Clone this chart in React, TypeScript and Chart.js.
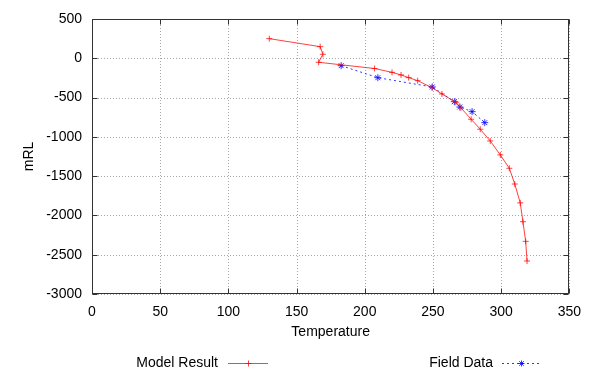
import React, { useEffect, useRef } from "react";
import { Chart, registerables } from "chart.js";

Chart.register(...registerables);

const modelTemp = [130, 167.3, 169.3, 166.2, 207.2, 220, 226.6, 232.2, 238.8, 249.3, 256.6, 266.8, 270.5, 278, 284.7, 292, 299.4, 306, 310, 314, 316, 318, 319];
const modelMRL = [250, 148, 51, -51, -130, -179, -212, -246, -285, -374, -454, -560, -630, -776, -903, -1052, -1230, -1400, -1600, -1840, -2080, -2330, -2580];

const fieldTemp = [182.7, 209.6, 249.5, 265.7, 269.7, 278.7, 288];
const fieldMRL = [-94, -247, -365, -552, -620, -679, -819];

const xTicks = [0, 50, 100, 150, 200, 250, 300, 350];
const yTicks = [500, 0, -500, -1000, -1500, -2000, -2500, -3000];

const seriesNames = ["Model Result", "Field Data"];
const axisTitles = { x: "Temperature", y: "mRL" };

const FONT = '"Liberation Sans", Arial, sans-serif';
const RED = "rgba(255,0,0,0.75)";
const BLUE = "rgba(0,0,255,0.8)";

function drawPlus(ctx: CanvasRenderingContext2D, x: number, y: number, r: number) {
  ctx.beginPath();
  ctx.moveTo(x - r, y);
  ctx.lineTo(x + r, y);
  ctx.moveTo(x, y - r);
  ctx.lineTo(x, y + r);
  ctx.stroke();
}

function drawStar(ctx: CanvasRenderingContext2D, x: number, y: number, r: number) {
  drawPlus(ctx, x, y, r);
  const d = r * 0.75;
  ctx.beginPath();
  ctx.moveTo(x - d, y - d);
  ctx.lineTo(x + d, y + d);
  ctx.moveTo(x - d, y + d);
  ctx.lineTo(x + d, y - d);
  ctx.stroke();
}

const framePlugin = {
  id: "gnuFrame",
  beforeDatasetsDraw(chart: any) {
    const { ctx, chartArea } = chart;
    const { left, right, top, bottom } = chartArea;
    const xs = chart.scales.x;
    const ys = chart.scales.y;
    ctx.save();
    ctx.strokeStyle = "#a8a8a8";
    ctx.lineWidth = 1;
    ctx.setLineDash([1, 2]);
    ctx.beginPath();
    xTicks.forEach((v) => {
      const px = Math.round(xs.getPixelForValue(v)) + 0.5;
      ctx.moveTo(px, top);
      ctx.lineTo(px, bottom);
    });
    yTicks.forEach((v) => {
      const py = Math.round(ys.getPixelForValue(v)) + 0.5;
      ctx.moveTo(left, py);
      ctx.lineTo(right, py);
    });
    ctx.stroke();
    ctx.restore();
  },
  afterDraw(chart: any) {
    const { ctx, chartArea } = chart;
    const { left, right, top, bottom } = chartArea;
    const xs = chart.scales.x;
    const ys = chart.scales.y;
    ctx.save();
    ctx.strokeStyle = "#333";
    ctx.lineWidth = 1;
    const L = Math.round(left) + 0.5;
    const R = Math.round(right) - 0.5;
    const T = Math.round(top) + 0.5;
    const B = Math.round(bottom) - 0.5;
    ctx.strokeRect(L, T, R - L, B - T);
    const tl = 5;
    ctx.beginPath();
    xTicks.forEach((v) => {
      const px = Math.round(xs.getPixelForValue(v)) + 0.5;
      ctx.moveTo(px, B);
      ctx.lineTo(px, B - tl);
      ctx.moveTo(px, T);
      ctx.lineTo(px, T + tl);
    });
    yTicks.forEach((v) => {
      const py = Math.round(ys.getPixelForValue(v)) + 0.5;
      ctx.moveTo(L, py);
      ctx.lineTo(L + tl, py);
      ctx.moveTo(R, py);
      ctx.lineTo(R - tl, py);
    });
    ctx.stroke();

    // legend (gnuplot style: text then sample)
    const ly = 363;
    ctx.font = `14px ${FONT}`;
    ctx.fillStyle = "#000";
    ctx.textAlign = "right";
    ctx.textBaseline = "middle";
    ctx.fillText(seriesNames[0], 218, ly);
    ctx.fillText(seriesNames[1], 493, ly);

    ctx.strokeStyle = RED;
    ctx.lineWidth = 1;
    ctx.beginPath();
    ctx.moveTo(228, ly + 0.5);
    ctx.lineTo(268, ly + 0.5);
    ctx.stroke();
    drawPlus(ctx, 248.5, ly + 0.5, 3);

    ctx.strokeStyle = BLUE;
    ctx.setLineDash([2, 3]);
    ctx.beginPath();
    ctx.moveTo(502, ly + 0.5);
    ctx.lineTo(540, ly + 0.5);
    ctx.stroke();
    ctx.setLineDash([]);
    drawStar(ctx, 521.5, ly + 0.5, 3);
    ctx.restore();
  },
};

export default function App() {
  const ref = useRef<HTMLCanvasElement | null>(null);

  useEffect(() => {
    if (!ref.current) return;
    const modelData = modelTemp.map((x, i) => ({ x, y: modelMRL[i] }));
    const fieldData = fieldTemp.map((x, i) => ({ x, y: fieldMRL[i] }));
    const tickFont = { family: FONT, size: 14 };
    const chart = new Chart(ref.current, {
      type: "scatter",
      data: {
        datasets: [
          {
            label: seriesNames[0],
            data: modelData,
            showLine: true,
            borderColor: RED,
            backgroundColor: RED,
            borderWidth: 1,
            pointStyle: "cross",
            pointRadius: 3,
            pointBorderWidth: 1,
            pointBorderColor: RED,
            tension: 0,
          },
          {
            label: seriesNames[1],
            data: fieldData,
            showLine: true,
            borderColor: BLUE,
            backgroundColor: BLUE,
            borderWidth: 1,
            borderDash: [2, 3],
            pointStyle: "star",
            pointRadius: 3.5,
            pointBorderWidth: 1,
            pointBorderColor: BLUE,
            tension: 0,
          },
        ],
      },
      options: {
        animation: false,
        responsive: false,
        devicePixelRatio: 1,
        layout: { padding: { left: 0, right: 21, top: 19, bottom: 0 } },
        plugins: {
          legend: { display: false },
          tooltip: { enabled: false },
        },
        scales: {
          x: {
            type: "linear",
            min: 0,
            max: 350,
            afterBuildTicks: (s: any) => {
              s.ticks = xTicks.map((v) => ({ value: v }));
            },
            afterFit: (s: any) => {
              s.height = 76;
            },
            grid: { display: false, drawTicks: false },
            border: { display: false },
            ticks: {
              padding: 10,
              color: "#000",
              font: tickFont,
              maxRotation: 0,
              callback: (v: any) => String(v),
            },
            title: {
              display: true,
              text: axisTitles.x,
              color: "#000",
              font: tickFont,
              padding: { top: 0, bottom: 29 },
            },
          },
          y: {
            type: "linear",
            min: -3000,
            max: 500,
            afterBuildTicks: (s: any) => {
              s.ticks = yTicks.map((v) => ({ value: v }));
            },
            afterFit: (s: any) => {
              s.width = 92;
            },
            grid: { display: false, drawTicks: false },
            border: { display: false },
            ticks: {
              padding: 10,
              color: "#000",
              font: tickFont,
              callback: (v: any) => String(v),
            },
            title: {
              display: true,
              text: axisTitles.y,
              color: "#000",
              font: tickFont,
              padding: { top: 21, bottom: 0 },
            },
          },
        },
      },
      plugins: [framePlugin],
    } as any);
    return () => chart.destroy();
  }, []);

  return (
    <div style={{ position: "fixed", left: 0, top: 0, width: 591, height: 370, background: "#fff" }}>
      <canvas ref={ref} width={591} height={370} style={{ display: "block", width: 591, height: 370 }} />
    </div>
  );
}
